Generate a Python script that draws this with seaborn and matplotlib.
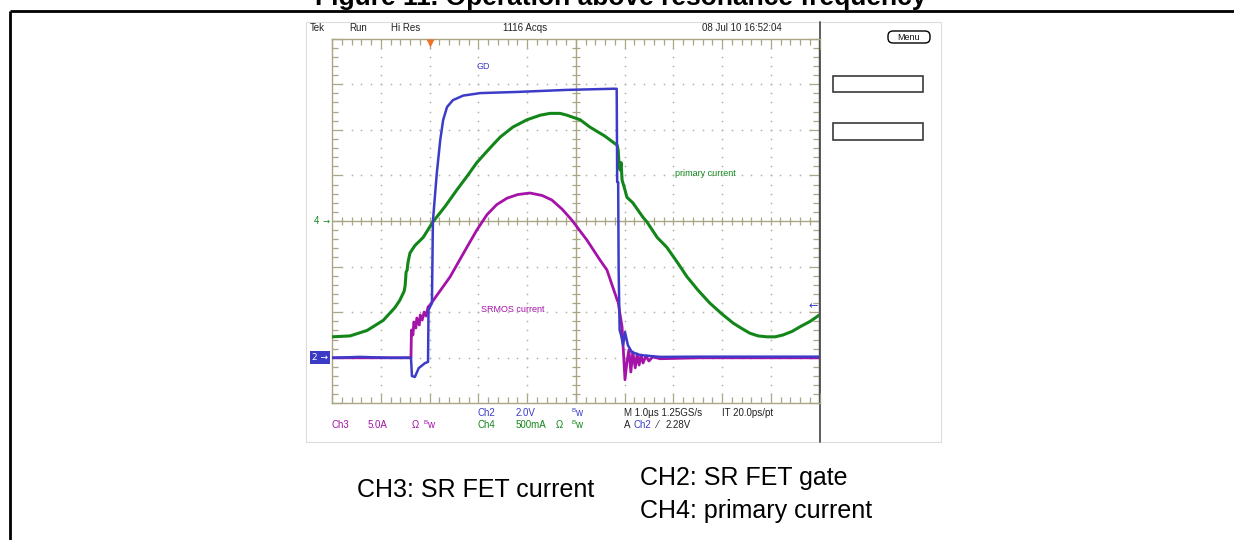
import numpy as np
import matplotlib
matplotlib.use("Agg")
import matplotlib.pyplot as plt
import matplotlib.transforms as mtransforms
from matplotlib.patches import Rectangle, FancyBboxPatch
import seaborn as sns

sns.set_theme(style="white")
plt.rcParams["font.family"] = ["Liberation Sans", "DejaVu Sans"]

# ---------------------------------------------------------------------------
# Captured waveforms (time in µs from the left edge of the screen)
# ---------------------------------------------------------------------------
# CH2: SR FET gate voltage (V)
gate_t = [0.00, 0.57, 1.19, 1.62, 1.64, 1.70, 1.78, 1.91, 1.97, 1.98, 2.05,
          2.07, 2.15, 2.22, 2.28, 2.36, 2.48, 2.69, 3.04, 3.79, 4.82, 5.76,
          5.84, 5.85, 5.87, 5.88, 5.90, 5.93, 5.97, 6.01, 6.07, 6.15, 6.32,
          6.73, 7.55, 10.00]
gate_v = [0.00, 0.04, 0.00, 0.00, -0.80, -0.84, -0.45, -0.23, -0.18, 2.10, 2.40,
          6.00, 8.10, 9.55, 10.43, 11.00, 11.30, 11.50, 11.61, 11.66, 11.75, 11.80,
          11.80, 7.71, 7.70, 3.85, 1.22, 1.00, 0.56, 1.13, 0.55, 0.25, 0.12,
          0.04, 0.05, 0.05]

# CH3: SR FET current (A)
sr_t = [0.00, 1.62, 1.63, 1.66, 1.68, 1.72, 1.74, 1.79, 1.81, 1.85, 1.89,
        1.93, 1.97, 2.01, 2.42, 2.77, 2.97, 3.18, 3.38, 3.59, 3.81, 4.06,
        4.31, 4.51, 4.72, 4.92, 5.23, 5.50, 5.64, 5.85, 5.87, 5.91, 5.95,
        5.97, 6.01, 6.05, 6.09, 6.13, 6.17, 6.22, 6.26, 6.30, 6.34, 6.38,
        6.44, 6.50, 6.58, 6.73, 7.55, 10.00]
sr_a = [0.00, 0.00, 3.05, 2.50, 3.93, 3.27, 4.36, 3.60, 4.69, 4.14, 5.02,
        4.58, 5.57, 5.79, 8.86, 12.15, 14.00, 15.70, 16.80, 17.50, 17.90, 18.07,
        17.80, 17.30, 16.30, 15.10, 12.90, 10.70, 9.63, 6.34, 6.10, 4.69, 3.38,
        1.40, -2.40, -0.46, 0.86, -1.56, 0.64, -1.10, 0.42, -0.79, 0.31, -0.57,
        0.20, -0.35, 0.10, -0.10, 0.00, 0.00]

# CH4: primary current (A)
pri_t = [0.00, 0.37, 0.72, 1.05, 1.29, 1.39, 1.48, 1.50, 1.52, 1.54, 1.56,
         1.60, 1.70, 1.87, 2.07, 2.32, 2.56, 2.77, 2.97, 3.24, 3.45, 3.71,
         4.00, 4.27, 4.47, 4.68, 4.82, 5.09, 5.29, 5.60, 5.85, 5.87, 5.89,
         5.91, 5.93, 5.95, 6.01, 6.05, 6.17, 6.38, 6.46, 6.67, 6.87, 7.08,
         7.28, 7.51, 7.75, 8.00, 8.23, 8.41, 8.57, 8.74, 8.92, 9.09, 9.25,
         9.44, 9.60, 9.81, 10.00]
pri_a = [-1.27, -1.26, -1.20, -1.09, -0.95, -0.87, -0.77, -0.71, -0.56, -0.54, -0.45,
         -0.35, -0.27, -0.18, -0.01, 0.16, 0.34, 0.49, 0.64, 0.80, 0.92, 1.03,
         1.11, 1.16, 1.18, 1.18, 1.16, 1.11, 1.03, 0.93, 0.83, 0.78, 0.61,
         0.56, 0.64, 0.45, 0.34, 0.26, 0.20, 0.04, -0.01, -0.18, -0.29, -0.45,
         -0.61, -0.76, -0.90, -1.02, -1.12, -1.18, -1.23, -1.26, -1.27, -1.27, -1.25,
         -1.21, -1.16, -1.10, -1.03]

# Vertical settings: units per division and ground position (divisions)
GATE_PER_DIV, GATE_POS = 2.0, -3.0
SR_PER_DIV, SR_POS = 5.0, -3.0
PRI_PER_DIV, PRI_POS = 0.5, 0.0
TRIG_TIME = 2.0      # µs
TRIG_LEVEL = 2.28    # V on CH2

# ---------------------------------------------------------------------------
BLUE = "#3c3cc8"
MAGENTA = "#a412a8"
GREEN = "#13861a"
OLIVE = "#aaa584"
DOT = "#b4b4aa"
SCOPE_FONT = ["Liberation Sans Narrow", "Liberation Sans", "DejaVu Sans"]

fig = plt.figure(figsize=(12.34, 5.4), dpi=100)
fig.patch.set_facecolor("white")

# pixel canvas for the page furniture
cv = fig.add_axes([0, 0, 1, 1])
cv.set_xlim(0, 1234)
cv.set_ylim(540, 0)
cv.set_axis_off()
cv.set_zorder(0)

# page frame and header
cv.plot([9.5, 1234], [10.5, 10.5], color="black", lw=2.0, solid_capstyle="butt")
cv.plot([9.5, 9.5], [10.5, 540], color="black", lw=2.0, solid_capstyle="butt")
cv.text(621, 5, "Figure 11. Operation above resonance frequency", ha="center",
        va="baseline", fontsize=19, fontweight="bold", color="black",
        family="Liberation Sans")

# scope screen box
cv.add_patch(Rectangle((305.5, 21.5), 635, 420.5, fill=False, ec="#dcdcdc", lw=0.8))
cv.plot([820, 820], [22, 442], color="#505050", lw=1.3)

# status line
for x, s in [(310, "Tek"), (349, "Run"), (391, "Hi Res"), (503, "1116 Acqs"),
             (702, "08 Jul 10 16:52:04")]:
    cv.text(x, 28, s, fontsize=7, va="center", ha="left", color="#222222",
            family=SCOPE_FONT)
cv.add_patch(FancyBboxPatch((888, 31), 42, 12,
                            boxstyle="round,pad=0,rounding_size=5",
                            fc="white", ec="black", lw=1.0))
cv.text(909, 37.5, "Menu", fontsize=6.5, ha="center", va="center", color="#111111",
        family=SCOPE_FONT)
cv.add_patch(Rectangle((833, 76), 90, 16, fill=False, ec="#3a3a3a", lw=1.2))
cv.add_patch(Rectangle((833, 123), 90, 17, fill=False, ec="#3a3a3a", lw=1.2))

# readout lines
def readout(x, y, s, color="#222222"):
    cv.text(x, y, s, fontsize=7, ha="left", va="center", color=color, family=SCOPE_FONT)

def bw(x, y, color):
    cv.text(x, y - 2, "B", fontsize=4.5, ha="left", va="center", color=color, family=SCOPE_FONT)
    cv.text(x + 4, y, "w", fontsize=7, ha="left", va="center", color=color, family=SCOPE_FONT)

readout(478, 413, "Ch2", BLUE)
readout(516, 413, "2.0V", BLUE)
bw(571, 413, BLUE)
readout(624, 413, "M 1.0µs 1.25GS/s")
readout(722, 413, "IT 20.0ps/pt")
readout(332, 425, "Ch3", MAGENTA)
readout(368, 425, "5.0A", MAGENTA)
readout(412, 425, "Ω", MAGENTA)
bw(423, 425, MAGENTA)
readout(478, 425, "Ch4", GREEN)
readout(516, 425, "500mA", GREEN)
readout(556, 425, "Ω", GREEN)
bw(571, 425, GREEN)
readout(624, 425, "A")
readout(634, 425, "Ch2", BLUE)
readout(657, 425, "⁄")
readout(666, 425, f"{TRIG_LEVEL:.2f}V")

# channel descriptions below the screen
for x, y, s in [(357, 490, "CH3: SR FET current"),
                (640, 478, "CH2: SR FET gate"),
                (640, 511, "CH4: primary current")]:
    cv.text(x, y, s, fontsize=18, ha="left", va="center", color="black",
            family="Liberation Sans")

# ---------------------------------------------------------------------------
# graticule: 10 x 8 divisions
# ---------------------------------------------------------------------------
gx = fig.add_axes([332 / 1234, (540 - 403.4) / 540, 487.5 / 1234, 364.8 / 540])
gx.set_zorder(1)
gx.patch.set_alpha(0)

def channel_axis(per_div, pos, z):
    ax = gx.twinx()
    ax.set_zorder(z)
    ax.patch.set_visible(False)
    ax.set_ylim((-4 - pos) * per_div, (4 - pos) * per_div)
    return ax

pri_ax = channel_axis(PRI_PER_DIV, PRI_POS, 2.0)
sr_ax = channel_axis(SR_PER_DIV, SR_POS, 2.1)
gate_ax = channel_axis(GATE_PER_DIV, GATE_POS, 2.2)

sns.lineplot(x=pri_t, y=pri_a, ax=pri_ax, color=GREEN, lw=2.2, sort=False,
             estimator=None, legend=False)
sns.lineplot(x=sr_t, y=sr_a, ax=sr_ax, color=MAGENTA, lw=2.0, sort=False,
             estimator=None, legend=False)
sns.lineplot(x=gate_t, y=gate_v, ax=gate_ax, color=BLUE, lw=1.8, sort=False,
             estimator=None, legend=False)

for ax, per_div, pos in [(pri_ax, PRI_PER_DIV, PRI_POS), (sr_ax, SR_PER_DIV, SR_POS),
                         (gate_ax, GATE_PER_DIV, GATE_POS)]:
    ax.set_ylim((-4 - pos) * per_div, (4 - pos) * per_div)
    ax.set_axis_off()

gx.set_xlim(0, 10)
gx.set_ylim(-4, 4)
for side in ["left", "top", "bottom", "right"]:
    gx.spines[side].set_visible(True)
    gx.spines[side].set_color(OLIVE)
    gx.spines[side].set_linewidth(1.0)
gx.spines["right"].set_color("#505050")
gx.set_xticks(np.arange(0, 10.01, 1.0))
gx.set_xticks(np.arange(0, 10.01, 0.2), minor=True)
gx.set_yticks(np.arange(-4, 4.01, 1.0))
gx.set_yticks(np.arange(-4, 4.01, 0.2), minor=True)
gx.tick_params(which="both", direction="in", top=True, bottom=True, left=True,
               right=True, labelbottom=False, labelleft=False, labeltop=False,
               labelright=False, color=OLIVE, width=0.9)
gx.tick_params(which="major", length=7)
gx.tick_params(which="minor", length=4)
gx.grid(False)

# centre cross with minor marks
gx.axhline(0, color=OLIVE, lw=1.0, zorder=1)
gx.axvline(5, color=OLIVE, lw=1.0, zorder=1)
xm = np.arange(0.2, 10, 0.2)
ym = np.arange(-3.8, 4, 0.2)
gx.vlines(xm, -0.09, 0.09, color=OLIVE, lw=0.9)
gx.hlines(ym, 5 - 0.085, 5 + 0.085, color=OLIVE, lw=0.9)

# dotted division lines
dots_x, dots_y = [], []
for xi in [1, 2, 3, 4, 6, 7, 8, 9]:
    for yv in ym:
        dots_x.append(xi)
        dots_y.append(yv)
for yi in [-3, -2, -1, 1, 2, 3]:
    for xv in xm:
        dots_x.append(xv)
        dots_y.append(yi)
gx.scatter(dots_x, dots_y, s=1.6, color=DOT, linewidths=0, zorder=1)

# trace labels
gx.text(3.10, 3.38, "GD", color=BLUE, fontsize=6.5, ha="center", va="center",
        family=SCOPE_FONT)
gx.text(7.65, 1.05, "primary current", color=GREEN, fontsize=6.5, ha="center",
        va="center", family=SCOPE_FONT)
gx.text(3.71, -1.93, "SRMOS current", color=MAGENTA, fontsize=6.5, ha="center",
        va="center", family=SCOPE_FONT)

# trigger position and level markers
gx.plot([TRIG_TIME], [3.9], marker="v", ms=6, color="#f0702a", mec="none",
        clip_on=False, zorder=3)
gate_ax.text(9.97, TRIG_LEVEL, "←", color=BLUE, fontsize=8, ha="right",
             va="center", family="DejaVu Sans")

# ground markers at the left edge
blend = mtransforms.blended_transform_factory(cv.transData, gx.transData)
cv.text(317, PRI_POS, "4", color=GREEN, fontsize=7, ha="center", va="center",
        transform=blend, family=SCOPE_FONT)
cv.text(326, PRI_POS, "→", color=GREEN, fontsize=6, ha="center", va="center",
        transform=blend, family="DejaVu Sans")
cv.text(320, GATE_POS, "2 →", color="white", fontsize=6.5, ha="center",
        va="center", transform=blend, family="DejaVu Sans",
        bbox=dict(boxstyle="square,pad=0.2", fc="#3a3ac4", ec="none"))

fig.savefig("out.png", dpi=100, facecolor="white")
